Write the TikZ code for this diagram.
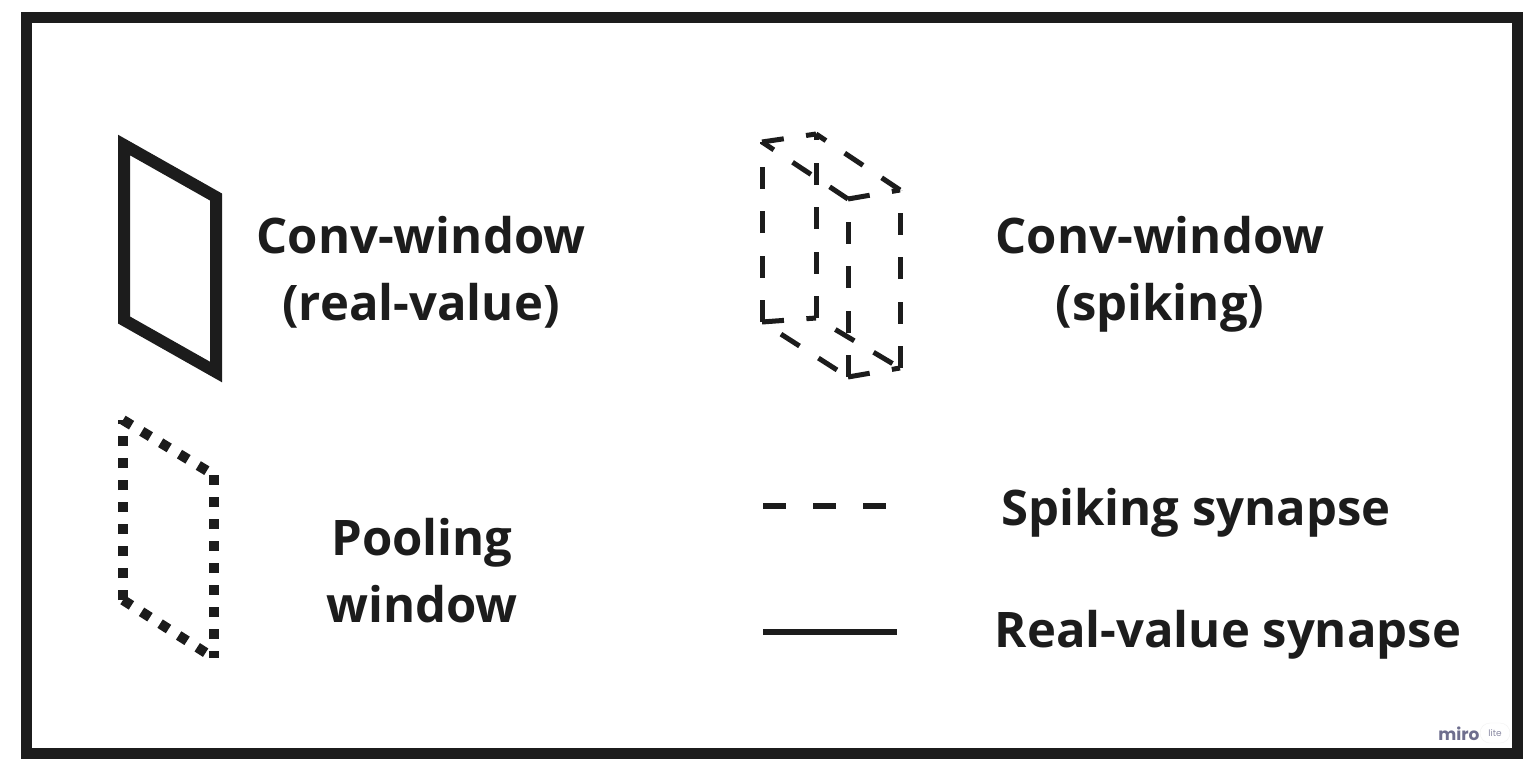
\documentclass[tikz,border=0pt]{standalone}
\usepackage{fontspec}
\setmainfont{Open Sans}
\newfontfamily\logofont{Poppins}
\definecolor{ink}{HTML}{1C1C1C}
\definecolor{logo}{HTML}{6E6E8E}
\begin{document}
\begin{tikzpicture}[x=1pt,y=-1pt,
  lbl/.style={anchor=base,inner sep=0pt,text=ink,font=\fontsize{49}{53}\bfseries\selectfont},
  solidwin/.style={draw=ink,line width=12pt,line join=miter},
  poolwin/.style={draw=ink,line width=10pt,dash pattern=on 10pt off 12pt},
  spk/.style={draw=ink,line width=5pt,dash pattern=on 22pt off 22.5pt},
  realsyn/.style={draw=ink,line width=6pt},
  frame/.style={draw=ink,line width=11pt}]
\useasboundingbox (0,0) rectangle (1537,774);
\fill[white] (0,0) rectangle (1537,774);
\draw[frame] (26.5,17.5) rectangle (1517.5,753);

% conv-window real-value
\coordinate (r1) at (124,145);
\coordinate (r2) at (216,197);
\coordinate (r3) at (216,372);
\coordinate (r4) at (124,320);
\draw[solidwin] (r1) -- (r2) -- (r3) -- (r4) -- cycle;
\node[lbl] (t1) at (421,253) {Conv-window};
\node[lbl] (t2) at (421,320) {(real-value)};

% pooling window
\coordinate (p1) at (123,420);
\coordinate (p2) at (214,475);
\coordinate (p3) at (214,658);
\coordinate (p4) at (123,600);
\draw[poolwin] (p1) -- (p2);
\draw[poolwin] (p2) -- (p3);
\draw[poolwin] (p4) -- (p1);
\draw[poolwin] (p4) -- (p3);
\node[lbl] (t3) at (422,555) {Pooling};
\node[lbl] (t4) at (422,622) {window};

% spiking cube
\coordinate (A) at (762,142);
\coordinate (B) at (816,134);
\coordinate (C) at (900,190);
\coordinate (D) at (848,199);
\coordinate (A') at (762,322);
\coordinate (B') at (816,318);
\coordinate (C') at (900,368);
\coordinate (D') at (848,377);
\draw[spk] (A) -- (B);
\draw[spk] (C) -- (B);
\draw[spk] (D) -- (C);
\draw[spk] (D) -- (A);
\draw[spk] (A') -- (A);
\draw[spk] (B') -- (B);
\draw[spk] (C') -- (C);
\draw[spk] (D') -- (D);
\draw[spk] (A') -- (B');
\draw[spk,dash phase=22pt] (A') -- (D');
\draw[spk,dash phase=22pt] (B') -- (C');
\draw[spk] (D') -- (C');
\node[lbl] (t5) at (1160,253) {Conv-window};
\node[lbl] (t6) at (1160,320) {(spiking)};

% synapses
\coordinate (s1) at (763,506);
\coordinate (s2) at (890,506);
\draw[draw=ink,line width=5.5pt,dash pattern=on 23pt off 27pt] (s1) -- (s2);
\node[lbl] (t7) at (1196,525) {Spiking synapse};
\coordinate (q1) at (763,632);
\coordinate (q2) at (897,632);
\draw[realsyn] (q1) -- (q2);
\node[lbl] (t8) at (1228,647) {Real-value synapse};

% logo
\node[anchor=base,inner sep=0pt,text=logo,font=\logofont\fontsize{17}{17}\bfseries\selectfont] (m1) at (1459,740) {miro};
\node[draw=gray!10,fill=white,rounded corners=10pt,minimum width=30pt,minimum height=20pt,inner sep=0pt,text=logo!80,font=\logofont\fontsize{9}{9}\selectfont] (m2) at (1495,733) {lite};
\end{tikzpicture}
\end{document}
